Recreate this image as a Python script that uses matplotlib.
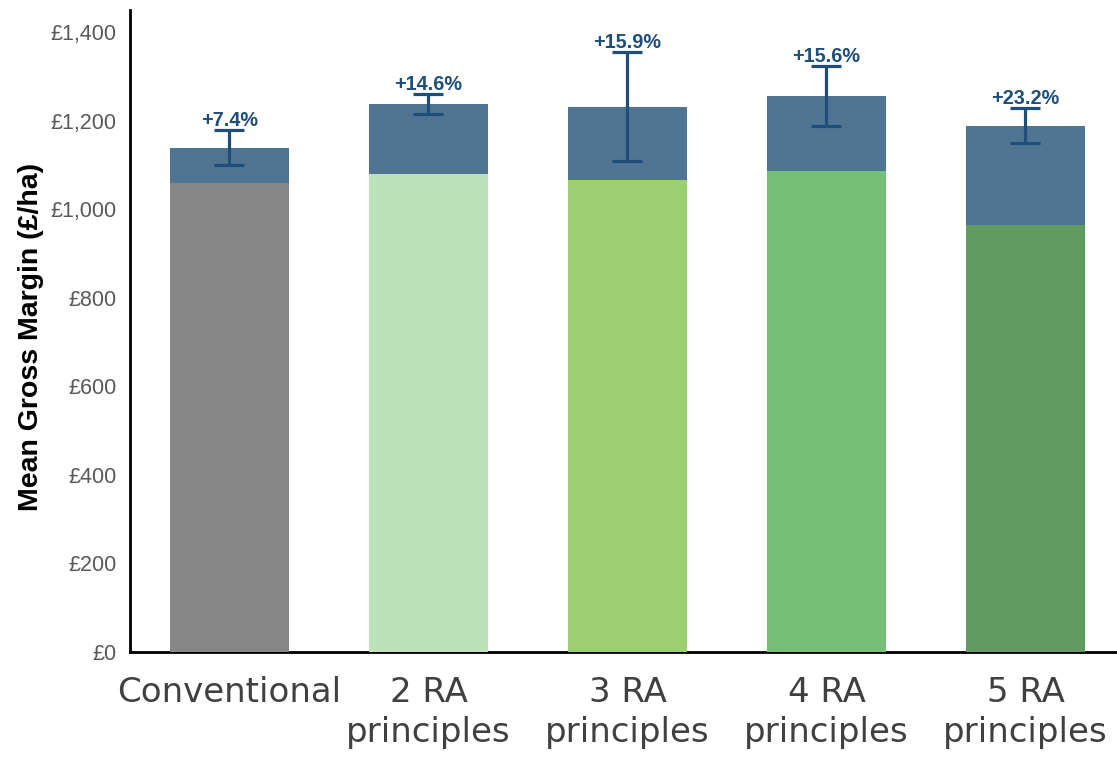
import matplotlib
matplotlib.use("Agg")
import matplotlib.pyplot as plt

plt.rcParams['font.family'] = ['Liberation Sans', 'DejaVu Sans']

categories = ["Conventional", "2 RA\nprinciples", "3 RA\nprinciples",
              "4 RA\nprinciples", "5 RA\nprinciples"]
base_values = [1059, 1079, 1066, 1087, 965]
total_values = [1139, 1238, 1232, 1256, 1189]
err_values = [40, 22, 123, 67, 40]
pct_labels = ["+7.4%", "+14.6%", "+15.9%", "+15.6%", "+23.2%"]
y_ticks = [0, 200, 400, 600, 800, 1000, 1200, 1400]
y_tick_labels = ["£0", "£200", "£400", "£600", "£800", "£1,000", "£1,200", "£1,400"]

base_colors = ["#878787", "#bde2b9", "#9bcf6f", "#76bf76", "#609b61"]
top_color = "#4f7593"
err_color = "#1f4e79"

W, H = 1117, 757
fig = plt.figure(figsize=(W / 100, H / 100), dpi=100)
ax = fig.add_axes([130 / W, 105 / H, (W - 130) / W, (652 - 10) / H])

x = list(range(len(categories)))

ax.bar(x, total_values, width=0.6, color=top_color, zorder=2)
ax.bar(x, base_values, width=0.6, color=base_colors, zorder=3)
ax.errorbar(x, total_values, yerr=err_values, fmt='none', ecolor=err_color,
            elinewidth=2.3, capsize=11, capthick=2.3, zorder=4)

for xi, t, e, lab in zip(x, total_values, err_values, pct_labels):
    ax.annotate(lab, (xi, t + e), xytext=(0, 3), textcoords='offset points',
                ha='center', va='baseline', color=err_color,
                fontsize=14.3, fontweight='bold', zorder=5)

ax.set_xlim(-0.5, 4.46)
ax.set_ylim(0, 1450)
ax.set_yticks(y_ticks)
ax.set_yticklabels(y_tick_labels, fontsize=15.5, color="#595959")
ax.set_xticks(x)
ax.set_xticklabels(categories, fontsize=24.5, color="#404040",
                   family=['DejaVu Sans'], linespacing=1.25)
ax.tick_params(axis='y', length=0, pad=9.5)
ax.tick_params(axis='x', length=0, pad=17.5)

for s in ['top', 'right']:
    ax.spines[s].set_visible(False)
for s in ['left', 'bottom']:
    ax.spines[s].set_linewidth(2.0)
    ax.spines[s].set_color('black')

ax.set_ylabel("Mean Gross Margin (£/ha)", fontsize=20.5, fontweight='bold',
              color='black')
ax.yaxis.set_label_coords(-0.087, 0.49)

fig.savefig("out.png", dpi=100)
